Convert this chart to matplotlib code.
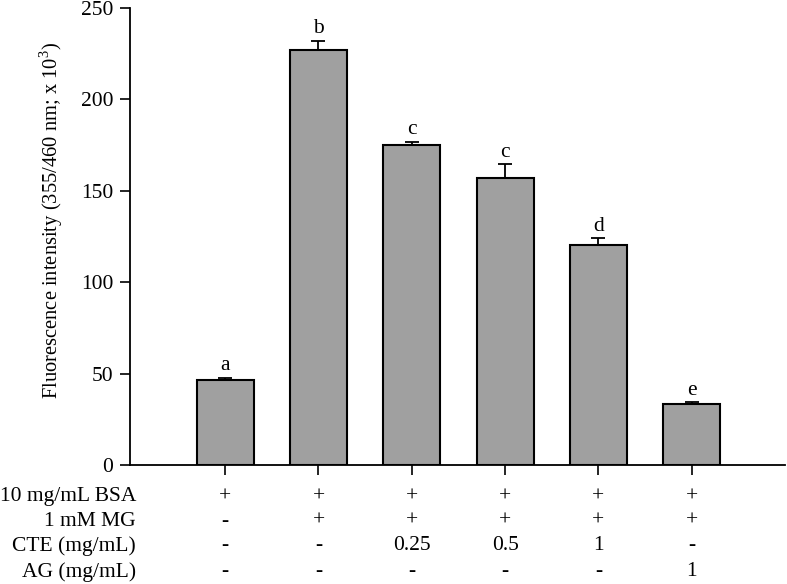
import numpy as np
import matplotlib
matplotlib.use('Agg')
import matplotlib.pyplot as plt

plt.rcParams['font.family'] = ['Liberation Serif', 'DejaVu Serif']
plt.rcParams['mathtext.fontset'] = 'custom'
plt.rcParams['mathtext.rm'] = 'Liberation Serif'

values = [46.5, 227.0, 175.0, 157.2, 120.4, 33.3]
errors = [1.0, 5.0, 1.6, 7.3, 3.6, 1.0]
letters = ['a', 'b', 'c', 'c', 'd', 'e']

row_names = ['10 mg/mL BSA', '1 mM MG', 'CTE (mg/mL)', 'AG (mg/mL)']
row_bsa = ['+', '+', '+', '+', '+', '+']
row_mg = ['-', '+', '+', '+', '+', '+']
row_cte = ['-', '-', '0.25', '0.5', '1', '-']
row_ag = ['-', '-', '-', '-', '-', '1']
rows = [row_bsa, row_mg, row_cte, row_ag]

fs = 15.5

fig = plt.figure(figsize=(7.87, 5.84), dpi=100)
ax = fig.add_axes([130 / 787, 1 - 465 / 584, 655 / 787, 457 / 584])

x = np.arange(len(values))
ax.bar(x, values, width=0.61, color='#a0a0a0', edgecolor='black', linewidth=1.5, zorder=2)
ax.errorbar(x, values, yerr=[np.zeros(len(errors)), errors], fmt='none',
            ecolor='black', elinewidth=1.3, capsize=5, capthick=1.3, zorder=3)
for xi, v, e, t in zip(x, values, errors, letters):
    ax.text(xi, v + e + 1.5, t, ha='center', va='bottom', fontsize=fs)

ax.set_xlim(-1.02, 6.0)
ax.set_ylim(0, 250)
ax.set_yticks([0, 50, 100, 150, 200, 250])
ax.set_xticks(x)
ax.set_xticklabels([])
ax.tick_params(axis='both', direction='out', length=7, width=1.2, labelsize=fs)
ax.tick_params(axis='y', pad=5)
ax.spines['top'].set_visible(False)
ax.spines['right'].set_visible(False)
ax.spines['left'].set_linewidth(1.3)
ax.spines['bottom'].set_linewidth(1.3)
ax.set_ylabel('Fluorescence intensity (355/460 nm; x 10$^{3}$)', fontsize=14.8)
ax.yaxis.set_label_coords(-0.099, 0.535)

row_y = [497, 521, 546, 572]
for name, vals, py in zip(row_names, rows, row_y):
    yfrac = (465 - py) / 457
    fig.text(136 / 787, 1 - py / 584, name, ha='right', va='center', fontsize=fs)
    for xi, s in zip(x, vals):
        ax.text(xi, yfrac, s, transform=ax.get_xaxis_transform(), ha='center',
                va='center', fontsize=fs, clip_on=False)

fig.savefig('out.png', dpi=100)
